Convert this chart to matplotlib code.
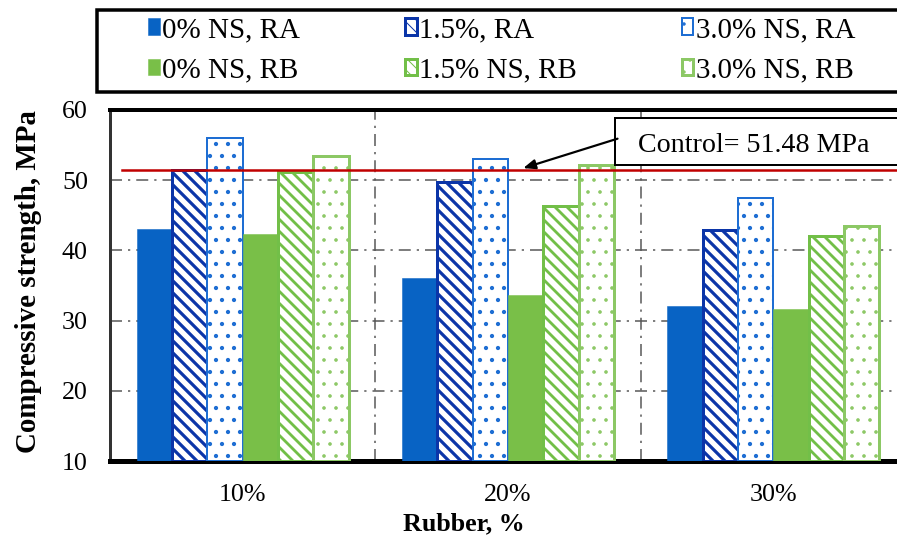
import matplotlib
matplotlib.use("Agg")
import matplotlib.pyplot as plt
import numpy as np
from matplotlib.patches import Rectangle

plt.rcParams["font.family"] = ["Liberation Serif", "DejaVu Serif"]

rubber = ["10%", "20%", "30%"]
series = ["0% NS, RA", "1.5%, RA", "3.0% NS, RA",
          "0% NS, RB", "1.5% NS, RB", "3.0% NS, RB"]
ns0_ra = [43.0, 36.0, 32.1]
ns15_ra = [51.5, 49.8, 42.9]
ns30_ra = [56.0, 53.0, 47.4]
ns0_rb = [42.3, 33.6, 31.6]
ns15_rb = [51.2, 46.3, 42.1]
ns30_rb = [53.4, 52.1, 43.5]
control = 51.48

values = [ns0_ra, ns15_ra, ns30_ra, ns0_rb, ns15_rb, ns30_rb]
# facecolor, edgecolor (also hatch colour), hatch, edge width, hatch width
styles = [
    ("#0863C4", "#0863C4", None, 0.5, 1.0),
    ("white", "#0B35A8", "\\\\", 3.0, 3.2),
    ("white", "#1E6ED3", ".", 2.0, 1.8),
    ("#79BF48", "#79BF48", None, 0.5, 1.0),
    ("white", "#72BF48", "\\\\", 3.0, 2.8),
    ("white", "#8CC865", ".", 3.0, 1.2),
]

fig = plt.figure(figsize=(897 / 72, 540 / 72), dpi=72)
ax = fig.add_axes([110 / 897, 79 / 540, 796 / 897, 351 / 540])

x = np.arange(len(rubber))
width = 0.133
bars = []
for i, (vals, (fc, ec, hatch, lw, hlw)) in enumerate(zip(values, styles)):
    with plt.rc_context({"hatch.linewidth": hlw}):
        b = ax.bar(x + (i - 2.5) * width, np.array(vals) - 10, width, bottom=10,
                   color=fc, edgecolor=ec, hatch=hatch, linewidth=lw,
                   label=series[i], zorder=3)
    for p in b:
        if hasattr(p, "set_hatch_linewidth"):
            p.set_hatch_linewidth(hlw)
    bars.append(b)

ax.set_xlim(-0.5, 2.5)
ax.set_ylim(10, 60)
ax.set_yticks(range(10, 61, 10))
ax.set_xticks(x, rubber)
ax.tick_params(axis="both", length=0, labelsize=26)
ax.tick_params(axis="y", pad=22)
ax.tick_params(axis="x", pad=23)

for yv in [20, 30, 40, 50]:
    ax.axhline(yv, color="#555555", lw=1.5, ls=(0, (8, 4, 1.5, 4)), zorder=1)
for xv in [0.5, 1.5]:
    ax.axvline(xv, color="#555555", lw=1.5, ls=(0, (8, 4, 1.5, 4)), zorder=1)

ax.spines["right"].set_visible(False)
ax.spines["top"].set_linewidth(4)
ax.spines["bottom"].set_linewidth(5)
ax.spines["left"].set_linewidth(3)
ax.spines["left"].set_color("#333333")

ax.set_ylabel("Compressive strength, MPa", fontsize=29, fontweight="bold")
ax.yaxis.set_label_coords(-0.086, 0.51)
ax.set_xlabel("Rubber, %", fontsize=26, fontweight="bold")
ax.xaxis.set_label_coords(0.445, -0.145)

# control line and its callout
ax.plot([-0.455, 2.5], [control, control], color="#C00000", lw=2.5, zorder=4)
ax.add_patch(Rectangle((1.405, 52.2), 1.3, 6.7, facecolor="white",
                       edgecolor="black", lw=2, zorder=5, clip_on=False))
ax.text(1.49, 55.0, "Control= %.2f MPa" % control, fontsize=28,
        va="center", ha="left", zorder=6)
ax.annotate("", xy=(1.05, control + 0.15), xytext=(1.42, 56.0),
            arrowprops=dict(arrowstyle="-|>,head_length=1.0,head_width=0.4",
                            color="black", lw=2.2), zorder=6)

# legend in a framed box across the top
order = [0, 3, 1, 4, 2, 5]
fig.patches.append(Rectangle((97 / 897, 1 - 92 / 540), 0.95, 82 / 540,
                             transform=fig.transFigure, facecolor="white",
                             edgecolor="black", lw=3.5))
fig.legend([bars[i] for i in order], [series[i] for i in order],
           loc="upper left", bbox_to_anchor=(148 / 897, 1 - 17 / 540),
           ncol=3, frameon=False, fontsize=29, handlelength=0.4,
           handleheight=0.5, handletextpad=0.1, columnspacing=3.6,
           labelspacing=0.5, borderpad=0, borderaxespad=0)

fig.savefig("out.png", dpi=72)
